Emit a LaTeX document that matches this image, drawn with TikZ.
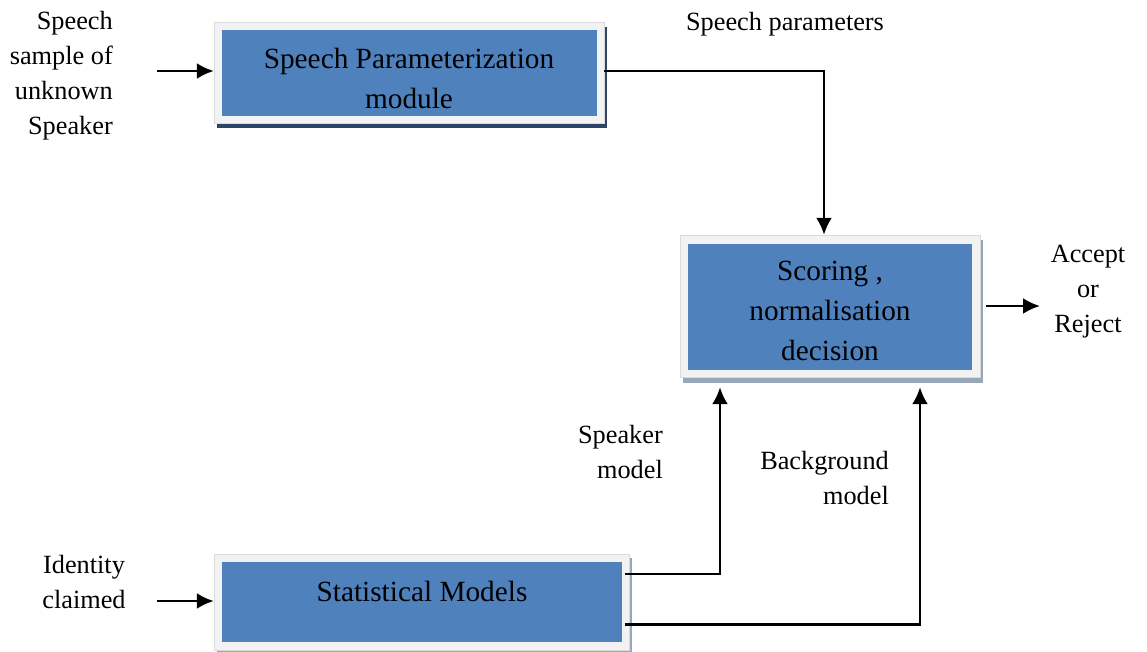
\documentclass[tikz,border=0pt]{standalone}
\usepackage{fontspec}
\setmainfont{Liberation Serif}
\usetikzlibrary{arrows.meta,calc}
\definecolor{boxblue}{HTML}{4F81BD}
\definecolor{framegray}{HTML}{F2F2F2}
\definecolor{darkshade}{HTML}{2C4566}
\definecolor{lightshade}{HTML}{98A6BA}
\tikzset{
  x=1pt, y=-1pt,
  frame/.style={draw=framegray!80!gray, line width=0.4pt, fill=framegray, inner sep=0pt},
  core/.style={fill=boxblue, inner sep=0pt},
  boxtext/.style={font=\fontsize{29.3}{40}\selectfont, align=center, inner sep=0pt},
  label/.style={font=\fontsize{26.3}{35}\selectfont, inner sep=0pt},
  arr/.style={line width=2.6pt, -{Latex[length=17pt,width=16pt]}},
}
\begin{document}
\begin{tikzpicture}
\useasboundingbox (0,0) rectangle (1147,652);

% shadows behind the frames
\fill[darkshade] (217,27) rectangle (607,128);
\fill[lightshade] (683,240) rectangle (983,383);
\fill[lightshade] (217,558) rectangle (632,653);

% parameterization block
\node[frame, minimum width=390pt, minimum height=101pt] (b1) at (409,72.5) {};
\node[core, minimum width=375pt, minimum height=86pt] (c1) at (409.5,73) {};
\node[boxtext] (t1) at (409,78) {Speech Parameterization\\module};

% scoring block
\node[frame, minimum width=300pt, minimum height=142pt] (b2) at (830,306) {};
\node[core, minimum width=284pt, minimum height=126pt] (c2) at (830,307) {};
\node[boxtext] (t2) at (830,311) {Scoring ,\\normalisation\\decision};

% model block
\node[frame, minimum width=415pt, minimum height=96pt] (b3) at (421.5,602) {};
\node[core, minimum width=400pt, minimum height=80pt] (c3) at (422,602) {};
\node[boxtext] (t3) at (422,591) {Statistical Models};

% free labels
\node[label, align=right, anchor=east] (in1) at (113,76) {Speech\\sample of\\unknown\\Speaker};
\node[label, align=center] (in3) at (84,582) {Identity\\claimed};
\node[label] (lp) at (785,24) {Speech parameters};
\node[label, align=center] (out) at (1088,292) {Accept\\or\\Reject};
\node[label, align=right, anchor=east] (ls) at (663,452) {Speaker\\model};
\node[label, align=right, anchor=east] (lb) at (889,478) {Background\\model};

% connector ends
\coordinate (a1) at (157,71);
\coordinate (a3) at (157,601);
\coordinate (o2) at (1040,306);

\draw[arr] (a1) -- (b1.west |- a1);
\draw[arr] (a3) -- (b3.west |- a3);
\draw[arr] ([yshift=1.5pt]b1.east) -| ([xshift=-6pt]b2.north);
\draw[arr] ([xshift=6pt]b2.east) -- (o2);
\draw[arr] ([xshift=-4pt,yshift=-20pt]b3.north east) -| ($(b2.south)+(-110,10)$);
\draw[arr] ([xshift=-4pt,yshift=26pt]b3.south east) -| ($(b2.south)+(90,10)$);
\end{tikzpicture}
\end{document}
